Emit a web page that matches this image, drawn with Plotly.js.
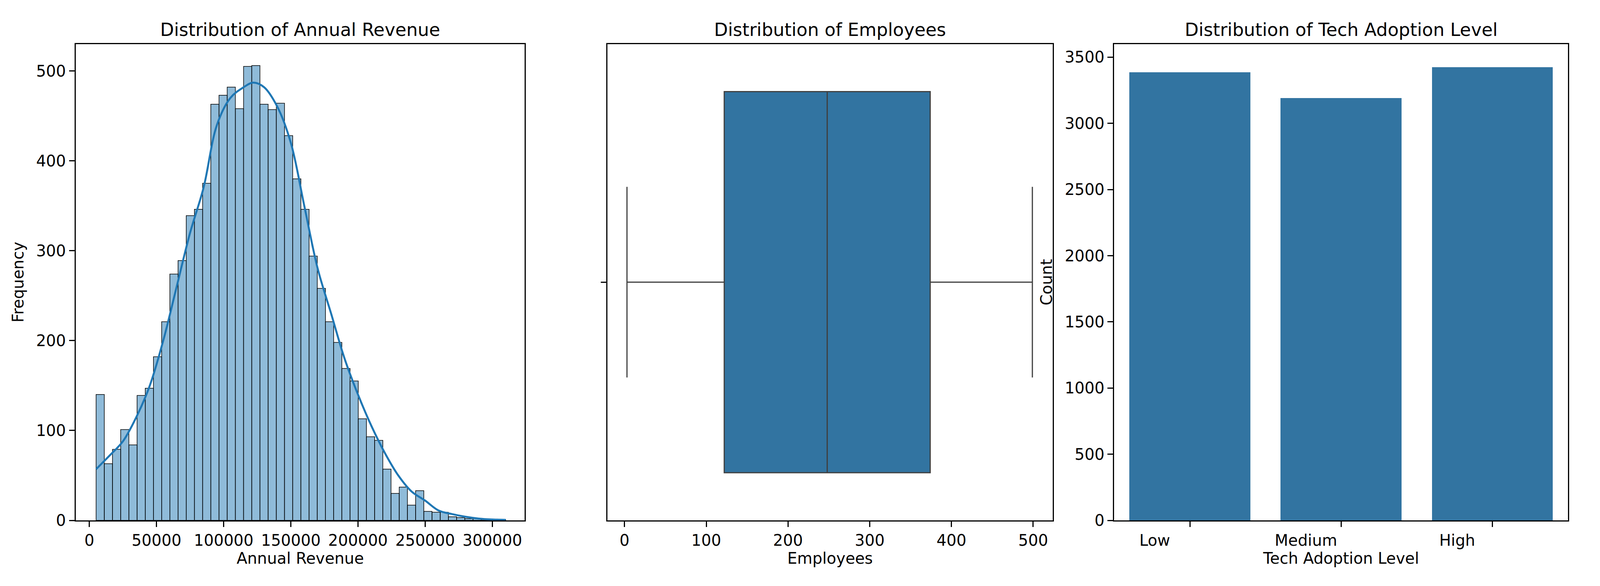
<!DOCTYPE html>
<html>
<head>
<meta charset="utf-8">
<script src="https://cdn.plot.ly/plotly-3.0.1.min.js"></script>
<style>html,body{margin:0;padding:0;overflow:hidden}#chart{width:100vw;height:100vh}</style>
</head>
<body>
<div id="chart"></div>
<script>
// histogram of annual revenue, 50 bins starting at 5000
let bin_start = 5000;
let bin_width = 6100;
let revenue_counts = [140, 63, 79, 101, 84, 139, 147, 182, 221, 274,
    289, 339, 346, 375, 463, 473, 482, 458, 505, 506,
    463, 457, 464, 428, 380, 346, 294, 258, 221, 198,
    169, 155, 113, 93, 89, 57, 30, 37, 17, 33,
    10, 9, 9, 4, 3, 2, 2, 1, 1, 1];
let kde_x = [5000, 15000, 25000, 35000, 45000, 55000, 65000, 75000, 85000, 95000,
    105000, 115000, 122000, 130000, 140000, 150000, 160000, 170000, 180000, 190000,
    200000, 210000, 220000, 230000, 240000, 250000, 260000, 270000, 280000, 290000, 300000, 310000];
let kde_y = [57, 72, 88, 115, 150, 200, 260, 320, 370, 440,
    470, 482, 487, 482, 460, 420, 350, 280, 230, 180,
    140, 105, 75, 50, 32, 22, 11, 7, 4, 2, 1, 0.5];

// employees box summary
let emp_min = 3;
let emp_q1 = 122;
let emp_median = 248;
let emp_q3 = 374;
let emp_max = 499;

// tech adoption counts
let levels = ['Low', 'Medium', 'High'];
let level_counts = [3385, 3190, 3425];

let bin_centers = revenue_counts.map((c, i) => bin_start + bin_width * (i + 0.5));

let font = {family: 'DejaVu Sans', size: 40, color: '#000'};

let hist = {
    type: 'bar', x: bin_centers, y: revenue_counts, width: bin_width,
    marker: {color: 'rgba(31,119,180,0.5)', line: {color: '#000', width: 1.5}},
    xaxis: 'x', yaxis: 'y', showlegend: false
};
let kde = {
    type: 'scatter', mode: 'lines', x: kde_x, y: kde_y,
    line: {color: '#1f77b4', width: 5, shape: 'spline'},
    xaxis: 'x', yaxis: 'y', showlegend: false
};
let box = {
    type: 'box', orientation: 'h', y: [0],
    q1: [emp_q1], median: [emp_median], q3: [emp_q3],
    lowerfence: [emp_min], upperfence: [emp_max],
    width: 0.8, whiskerwidth: 0.5,
    fillcolor: '#3274a1', line: {color: '#3f3f3f', width: 3},
    xaxis: 'x2', yaxis: 'y2', showlegend: false
};
let bars = {
    type: 'bar', x: levels, y: level_counts, width: 0.8,
    marker: {color: '#3274a1'},
    xaxis: 'x3', yaxis: 'y3', showlegend: false
};

function ax(extra) {
    return Object.assign({
        showline: true, mirror: true, linecolor: '#000', linewidth: 3,
        ticks: 'outside', ticklen: 14, tickwidth: 3, tickcolor: '#000',
        showgrid: false, zeroline: false, tickfont: font
    }, extra);
}

function title(t, x) {
    return {text: t, x: x, y: 0.93, xref: 'paper', yref: 'paper',
        xanchor: 'center', yanchor: 'bottom',
        showarrow: false, font: {family: 'DejaVu Sans', size: 46, color: '#000'}};
}

let layout = {
    autosize: true,
    margin: {l: 0, r: 0, t: 0, b: 0},
    paper_bgcolor: '#fff', plot_bgcolor: '#fff',
    font: font, bargap: 0,
    xaxis: ax({domain: [0.0473, 0.328], range: [-10200, 324200], tickformat: 'd',
        tickvals: [0, 50000, 100000, 150000, 200000, 250000, 300000],
        title: {text: 'Annual Revenue', font: font, standoff: 10}}),
    yaxis: ax({domain: [0.112, 0.925], range: [0, 530], dtick: 100,
        title: {text: 'Frequency', font: font, standoff: 20}}),
    xaxis2: ax({domain: [0.3796, 0.658], range: [-21, 524], dtick: 100, anchor: 'y2',
        title: {text: 'Employees', font: font, standoff: 10}}),
    yaxis2: ax({domain: [0.112, 0.925], range: [-0.5, 0.5], anchor: 'x2',
        tickvals: [0], ticktext: [''], fixedrange: true}),
    xaxis3: ax({domain: [0.6964, 0.980], range: [-0.5, 2.5], anchor: 'y3', ticklabelshift: -90,
        title: {text: 'Tech Adoption Level', font: font, standoff: 10}}),
    yaxis3: ax({domain: [0.112, 0.925], range: [0, 3600], dtick: 500, anchor: 'x3',
        title: {text: 'Count', font: font, standoff: 20}}),
    annotations: [
        title('Distribution of Annual Revenue', 0.1877),
        title('Distribution of Employees', 0.5188),
        title('Distribution of Tech Adoption Level', 0.8382)
    ]
};

Plotly.newPlot('chart', [hist, kde, box, bars], layout, {staticPlot: true, responsive: true});
</script>
</body>
</html>
